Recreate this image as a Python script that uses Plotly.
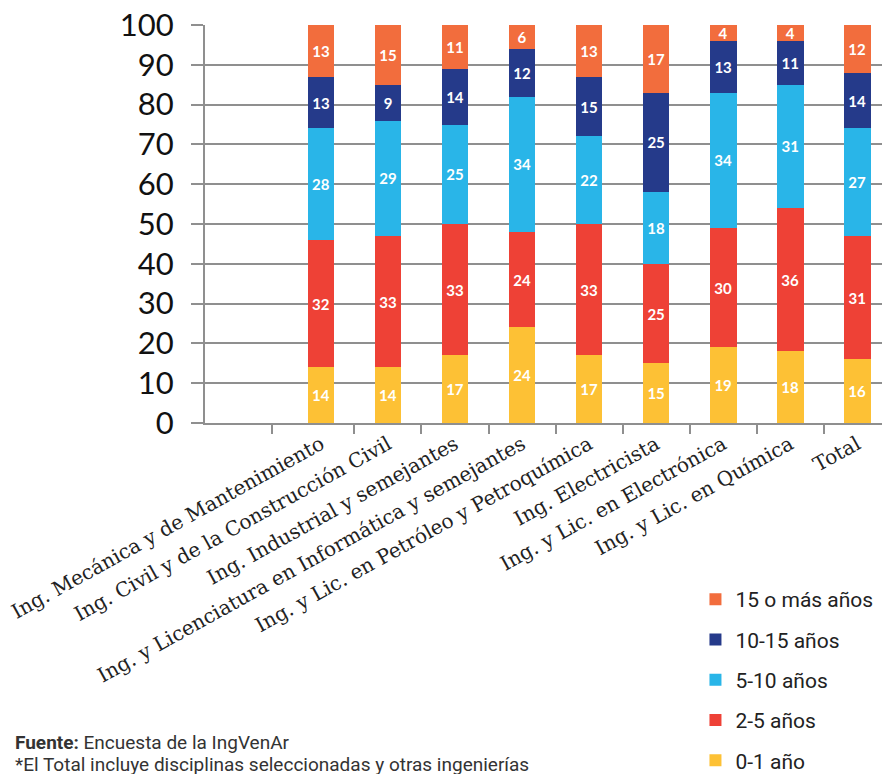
import plotly.graph_objects as go

# Data
categories = [
    "Ing. Mecánica y de Mantenimiento",
    "Ing. Civil y de la Construcción Civil",
    "Ing. Industrial y semejantes",
    "Ing. y Licenciatura en Informática y semejantes",
    "Ing. y Lic. en Petróleo y Petroquímica",
    "Ing. Electricista",
    "Ing. y Lic. en Electrónica",
    "Ing. y Lic. en Química",
    "Total",
]
anio_0_1 = [14, 14, 17, 24, 17, 15, 19, 18, 16]
anios_2_5 = [32, 33, 33, 24, 33, 25, 30, 36, 31]
anios_5_10 = [28, 29, 25, 34, 22, 18, 34, 31, 27]
anios_10_15 = [13, 9, 14, 12, 15, 25, 13, 11, 14]
anios_15_mas = [13, 15, 11, 6, 13, 17, 4, 4, 12]

series = [
    ("0-1 año", anio_0_1, "#FDC135"),
    ("2-5 años", anios_2_5, "#EE4136"),
    ("5-10 años", anios_5_10, "#29B5E8"),
    ("10-15 años", anios_10_15, "#253A8A"),
    ("15 o más años", anios_15_mas, "#F26D3D"),
]

positions = list(range(len(categories)))
boundaries = [-0.73] + [p + 0.5 for p in positions[:-1]]

GRID = "#8f8f8f"

fig = go.Figure()
for i, (name, vals, color) in enumerate(series):
    fig.add_trace(go.Bar(
        x=positions,
        y=vals,
        name=name,
        legendgroup=name,
        legendrank=len(series) - i,
        width=0.4,
        marker=dict(color=color, line=dict(width=0)),
        text=vals,
        textposition="inside",
        insidetextanchor="middle",
        textangle=0,
        textfont=dict(family="Lato", size=15, color="white", weight="bold"),
        hoverinfo="skip",
    ))

# page body adds an 8px offset, so the figure is a bit smaller than the window
fig.update_layout(
    barmode="stack",
    width=882,
    height=766,
    plot_bgcolor="white",
    paper_bgcolor="white",
    margin=dict(l=197, r=0, t=17, b=351, autoexpand=False),
    uniformtext=dict(minsize=15, mode="show"),
    showlegend=True,
    legend=dict(
        traceorder="grouped",
        x=0.716, xanchor="left",
        y=-0.392, yanchor="top",
        font=dict(family="Roboto", size=21, color="#222222"),
        tracegroupgap=10,
        itemwidth=30,
        bgcolor="rgba(0,0,0,0)",
    ),
    xaxis=dict(
        range=[-1.73, 8.49],
        automargin=False,
        tickmode="array",
        tickvals=positions,
        ticktext=categories,
        tickangle=-29,
        ticks="",
        ticklabeloverflow="allow",
        tickfont=dict(family="DejaVu Serif", size=20, color="#222222"),
        showgrid=False,
        zeroline=False,
        showline=True,
        linecolor=GRID,
        linewidth=2,
        minor=dict(
            tickmode="array",
            tickvals=boundaries,
            ticks="outside",
            ticklen=9,
            tickwidth=2,
            tickcolor=GRID,
            showgrid=False,
        ),
    ),
    yaxis=dict(
        range=[0, 100],
        automargin=False,
        tickmode="linear",
        tick0=0,
        dtick=10,
        ticks="outside",
        ticklen=12,
        tickwidth=2,
        tickcolor=GRID,
        ticklabeloverflow="allow",
        showgrid=True,
        gridcolor=GRID,
        gridwidth=2,
        zeroline=False,
        showline=True,
        linecolor=GRID,
        linewidth=2,
        tickfont=dict(family="Lato", size=31, color="#111111"),
        ticklabelstandoff=11,
    ),
)

fig.add_annotation(
    xref="paper", yref="paper",
    x=-0.28, y=-0.802, xanchor="left", yanchor="middle",
    text="<b>Fuente:</b> Encuesta de la IngVenAr",
    showarrow=False,
    font=dict(family="Roboto", size=19, color="#333333"),
)
fig.add_annotation(
    xref="paper", yref="paper",
    x=-0.28, y=-0.857, xanchor="left", yanchor="middle",
    text="*El Total incluye disciplinas seleccionadas y otras ingenierías",
    showarrow=False,
    font=dict(family="Roboto", size=19, color="#333333"),
)

fig.write_html("out.html")
